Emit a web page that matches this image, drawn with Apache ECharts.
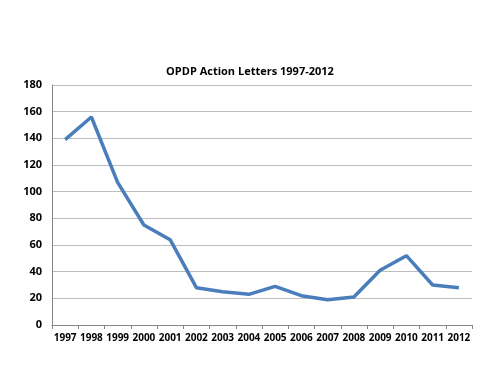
<!DOCTYPE html>
<html>
<head>
<meta charset="utf-8">
<script src="https://cdn.jsdelivr.net/npm/echarts@6/dist/echarts.min.js"></script>
<style>
  html, body { margin: 0; padding: 0; background: #fff; }
  #container { width: 500px; height: 375px; }
</style>
</head>
<body>
<div id="container"></div>
<script>
let years = ['1997', '1998', '1999', '2000', '2001', '2002', '2003', '2004',
  '2005', '2006', '2007', '2008', '2009', '2010', '2011', '2012'];
let letters = [139, 156, 107, 75, 64, 28, 25, 23, 29, 22, 19, 21, 41, 52, 30, 28];
let yTicks = { min: 0, max: 180, interval: 20 };

let dom = document.getElementById("container");
let myChart = echarts.init(dom);
let font = "'Open Sans', 'Liberation Sans', sans-serif";

let option = {
    animation: false,
    title: {
        text: 'OPDP Action Letters 1997-2012',
        left: 'center',
        top: 61,
        textStyle: { fontSize: 11, fontWeight: 'bold', color: '#000', fontFamily: font }
    },
    grid: { left: 52, right: 28, top: 85, bottom: 50 },
    xAxis: {
        type: 'category',
        data: years,
        boundaryGap: true,
        axisLine: { lineStyle: { color: '#868686' } },
        axisTick: { show: true, alignWithLabel: false, length: 4, lineStyle: { color: '#868686' } },
        axisLabel: { color: '#000', fontSize: 10, fontWeight: 'bold', fontFamily: font, margin: 8, interval: 0 }
    },
    yAxis: {
        type: 'value',
        min: yTicks.min,
        max: yTicks.max,
        interval: yTicks.interval,
        axisLine: { show: true, lineStyle: { color: '#868686' } },
        axisTick: { show: false },
        axisLabel: { color: '#000', fontSize: 11, fontWeight: 'bold', fontFamily: font, margin: 10 },
        splitLine: { lineStyle: { color: '#bdbdbd', width: 1 } }
    },
    series: [{
        type: 'line',
        data: letters,
        symbol: 'none',
        lineStyle: { color: '#4a7ebb', width: 3.5 }
    }]
};
myChart.setOption(option);
</script>
</body>
</html>
